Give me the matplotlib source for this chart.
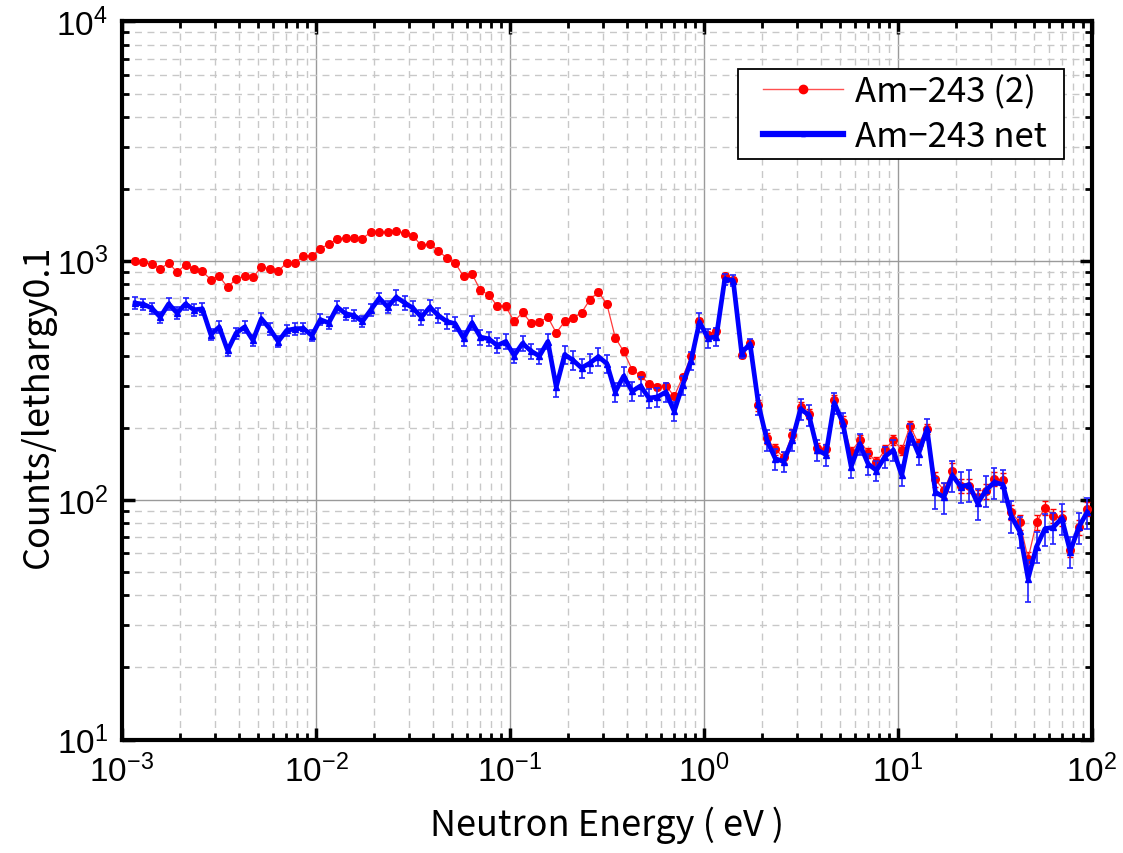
import numpy as np
import matplotlib.pyplot as plt
from matplotlib.lines import Line2D
from matplotlib.patches import Rectangle
from matplotlib.ticker import LogLocator, FuncFormatter, NullFormatter

# fuentes
fuente_jp = 'Noto Sans CJK JP'
fuente_ticks = 'Liberation Sans'
plt.rcParams['font.family'] = [fuente_jp, 'DejaVu Sans']
plt.rcParams['xtick.labelsize'] = 24
plt.rcParams['ytick.labelsize'] = 24

# Rejilla de energía: bins de letargia 0.1 (en ln)
e_inicio = 1.167e-3
n_puntos = 114
energia = e_inicio * np.exp(0.1 * np.arange(n_puntos))

# Am-243 (2)
am243_2 = [1000, 988, 966, 926, 978, 897, 962, 920, 903, 835,
           860, 776, 841, 863, 852, 944, 926, 906, 981, 981,
           1047, 1047, 1125, 1172, 1236, 1249, 1247, 1239, 1318, 1318,
           1318, 1331, 1309, 1268, 1159, 1178, 1104, 1026, 981, 860,
           882, 752, 722, 647, 645, 558, 609, 550, 555, 581,
           500, 558, 576, 607, 689, 740, 661, 478, 418, 351,
           332, 306, 298, 301, 272, 326, 400, 558, 490, 510,
           862, 831, 405, 455, 249, 181, 163, 151, 188, 245,
           229, 165, 163, 261, 213, 159, 178, 158, 144, 162,
           179, 162, 204, 172, 199, 122, 110, 133, 115, 115,
           103, 109, 123, 121, 89, 81, 57, 81, 93, 86,
           84, 62, 77, 92]

# Am-243 net
am243_net = [666, 659, 634, 582, 661, 605, 661, 624, 630, 492,
             529, 422, 499, 529, 465, 573, 520, 460, 512, 520,
             522, 487, 568, 550, 641, 601, 591, 558, 624, 698,
             641, 705, 668, 634, 582, 641, 591, 558, 546, 475,
             551, 480, 472, 443, 460, 402, 452, 420, 400, 460,
             297, 406, 384, 357, 374, 398, 372, 283, 330, 285,
             300, 267, 270, 283, 235, 302, 383, 556, 475, 482,
             838, 827, 413, 450, 251, 178, 149, 145, 178, 241,
             226, 162, 155, 255, 211, 138, 172, 142, 133, 152,
             162, 127, 189, 156, 199, 108, 103, 127, 114, 116,
             97, 110, 119, 116, 86, 74, 47, 64, 76, 77,
             84, 61, 77, 89]

# errores relativos (%)
err_rel_2 = [2.5] * 41 + [3] * 33 + [5] * 21 + [7] * 19
err_rel_net = [5.5] * 31 + [7] * 19 + [9] * 20 + [5] * 4 + [10] * 21 + [15] * 11 + [20] + [15] * 7

am243_2 = np.array(am243_2, dtype=float)
am243_net = np.array(am243_net, dtype=float)
err_2 = am243_2 * np.array(err_rel_2) / 100
err_net = am243_net * np.array(err_rel_net) / 100

fig = plt.figure(figsize=(11.23, 8.54), dpi=100)
ax = fig.add_axes([0.1086, 0.1329, 0.8638, 0.8408])

ax.errorbar(energia, am243_2, yerr=err_2, color='#ff3a3a', lw=0.9,
            marker='o', ms=5.5, mfc='red', mec='red', ecolor='red',
            elinewidth=1.0, capsize=2.5, capthick=1.0, zorder=3)
ax.errorbar(energia, am243_net, yerr=err_net, color='#0000ff', lw=3.4,
            marker='^', ms=5, mfc='blue', mec='blue', ecolor='#2020ff',
            elinewidth=1.2, capsize=2.5, capthick=1.2, zorder=4)

ax.set_xscale('log')
ax.set_yscale('log')
ax.set_xlim(1e-3, 1e2)
ax.set_ylim(1e1, 1e4)

# rejilla
ax.grid(which='major', color='#9a9a9a', lw=1.0, ls='-')
ax.grid(which='minor', color='#c8c8c8', lw=1.0, ls=(0, (5, 4)))
ax.set_axisbelow(True)

# ticks
ax.xaxis.set_major_locator(LogLocator(base=10, numticks=10))
ax.yaxis.set_major_locator(LogLocator(base=10, numticks=10))
ax.xaxis.set_minor_locator(LogLocator(base=10, subs=np.arange(2, 10), numticks=20))
ax.yaxis.set_minor_locator(LogLocator(base=10, subs=np.arange(2, 10), numticks=20))
ax.xaxis.set_minor_formatter(NullFormatter())
ax.yaxis.set_minor_formatter(NullFormatter())
fmt = FuncFormatter(lambda v, p: r'$\mathregular{10^{%d}}$' % round(np.log10(v)))
ax.xaxis.set_major_formatter(fmt)
ax.yaxis.set_major_formatter(fmt)
ax.tick_params(which='major', direction='in', length=9, width=2.5, top=True, right=True,
               labelsize=24, pad=10, labelfontfamily=fuente_ticks)
ax.tick_params(which='minor', direction='in', length=5, width=2, top=True, right=True)
for s in ax.spines.values():
    s.set_linewidth(3)

ax.set_xlabel('Neutron Energy ( eV )', fontsize=26, va='top')
ax.xaxis.set_label_coords(0.5, -0.092)
ax.set_ylabel('Counts/lethargy0.1', fontsize=26)
ax.yaxis.set_label_coords(-0.068, 0.465)

# leyenda sin barras de error, con marco dibujado aparte
marco = Rectangle((0.635, 0.8085), 0.336, 0.1253, transform=ax.transAxes,
                  facecolor='white', edgecolor='black', lw=1.3, zorder=8)
ax.add_patch(marco)
h_rojo = Line2D([], [], color='#ff5050', lw=1.0, marker='o', ms=6, mfc='red', mec='red')
h_azul = Line2D([], [], color='blue', lw=4.5, marker='^', ms=3, mfc='blue', mec='blue')
leg = ax.legend([h_rojo, h_azul], ['Am\u2212243 (2)', 'Am\u2212243 net'],
                loc='center left', bbox_to_anchor=(0.661, 0.871), borderaxespad=0,
                fontsize=25, frameon=False, handlelength=2.3, handletextpad=0.35,
                borderpad=0, labelspacing=0.3)
leg.set_zorder(9)

plt.savefig('out.png', dpi=100)
